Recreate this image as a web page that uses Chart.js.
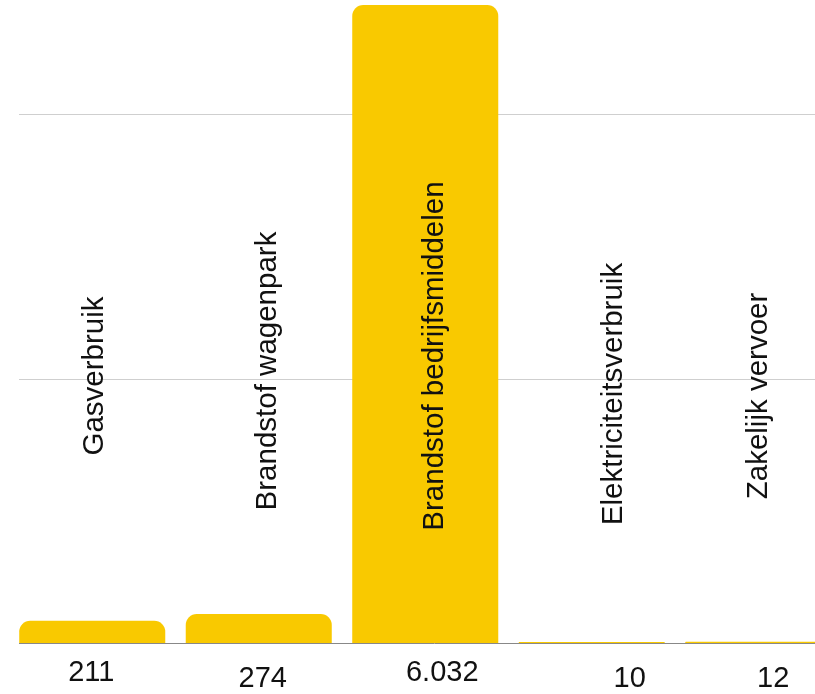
<!DOCTYPE html>
<html>
<head>
<meta charset="utf-8">
<script src="https://cdn.jsdelivr.net/npm/chart.js@4"></script>
<style>
  html, body { margin: 0; padding: 0; background: #fff; overflow: hidden; }
  #wrap { position: absolute; left: 0; top: 0; width: 850px; height: 694px; }
</style>
</head>
<body>
<div id="wrap"><canvas id="co2Chart"></canvas></div>
<script>
const categories = ['Gasverbruik', 'Brandstof wagenpark', 'Brandstof bedrijfsmiddelen', 'Elektriciteitsverbruik', 'Zakelijk vervoer'];
const emissions = [211, 274, 6032, 10, 12];
const yTicks = [0, 2500, 5000];

// hand nudges so the labels sit like in the original layout (px)
const nameNudge = [[0, 376], [7, 371], [7, 356], [20, 394], [-2, 396]];
const valueNudge = [[-1, 681], [4, 687], [17, 681], [38, 687], [15, 687]];

const NAME_FONT = '29.5px "Liberation Sans", Arial, sans-serif';
const VALUE_FONT = '29px "Liberation Sans", Arial, sans-serif';
const INK = '#111';

function nl(n) {
  return String(n).replace(/\B(?=(\d{3})+(?!\d))/g, '.');
}

const labelsPlugin = {
  id: 'labels',
  beforeDatasetsDraw(chart) {
    const { ctx, chartArea, scales: { y } } = chart;
    ctx.save();
    y.ticks.forEach(t => {
      const py = Math.round(y.getPixelForValue(t.value)) + 0.5;
      ctx.strokeStyle = t.value === 0 ? '#888' : '#cfcfcf';
      ctx.lineWidth = 1;
      ctx.beginPath();
      ctx.moveTo(chartArea.left + 10, py);
      ctx.lineTo(chart.width, py);
      ctx.stroke();
    });
    ctx.restore();
  },
  afterDatasetsDraw(chart) {
    const { ctx, scales: { x } } = chart;
    ctx.save();
    ctx.fillStyle = INK;
    ctx.textAlign = 'center';
    ctx.textBaseline = 'alphabetic';
    categories.forEach((name, i) => {
      const cx = x.getPixelForValue(i);
      ctx.save();
      ctx.font = NAME_FONT;
      ctx.translate(cx + nameNudge[i][0] + 10.5, nameNudge[i][1]);
      ctx.rotate(-Math.PI / 2);
      ctx.fillText(name, 0, 0);
      ctx.restore();
      ctx.font = VALUE_FONT;
      ctx.fillText(nl(emissions[i]), cx + valueNudge[i][0], valueNudge[i][1]);
    });
    ctx.restore();
  }
};

new Chart(document.getElementById('co2Chart'), {
  type: 'bar',
  data: {
    labels: categories,
    datasets: [{
      data: emissions,
      backgroundColor: '#f9c900',
      borderWidth: 0,
      borderRadius: { topLeft: 11, topRight: 11 },
      borderSkipped: 'start',
      barPercentage: 0.877,
      categoryPercentage: 1
    }]
  },
  options: {
    responsive: true,
    maintainAspectRatio: false,
    animation: false,
    layout: { padding: { left: 9, right: 8.5, top: 5, bottom: 51 } },
    plugins: { legend: { display: false }, tooltip: { enabled: false } },
    scales: {
      x: { display: false },
      y: {
        display: false,
        min: 0,
        max: 6032,
        afterBuildTicks: s => { s.ticks = yTicks.map(v => ({ value: v })); }
      }
    }
  },
  plugins: [labelsPlugin]
});
</script>
</body>
</html>
